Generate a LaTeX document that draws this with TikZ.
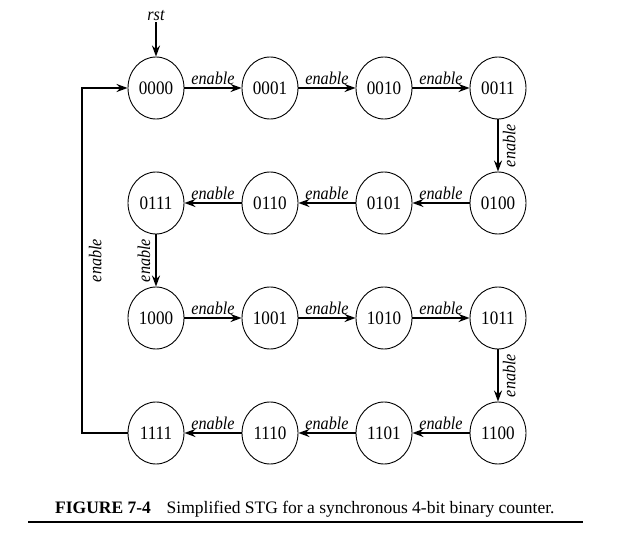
\documentclass[tikz,border=0pt]{standalone}
\usepackage{fontspec}
\setmainfont{Liberation Serif}
\newfontfamily\condfont[FakeStretch=0.9]{Liberation Serif}
\usetikzlibrary{shapes.geometric,arrows.meta}
\begin{document}
\begin{tikzpicture}[x=1pt,y=-1pt,
  state/.style={ellipse,draw,line width=0.9pt,minimum width=56pt,minimum height=62pt,inner sep=0pt,font=\condfont\fontsize{19}{19}\selectfont},
  tr/.style={line width=1.6pt,-{Stealth[length=11pt,width=8pt]}},
  lbl/.style={font=\condfont\fontsize{18}{18}\selectfont\itshape,inner sep=1pt}]
\useasboundingbox (0,0) rectangle (619,534);
% row 1
\node[state] (s0) at (156,88) {0000};
\node[state] (s1) at (270,88) {0001};
\node[state] (s2) at (384,88) {0010};
\node[state] (s3) at (498,88) {0011};
% row 2
\node[state] (s4) at (498,203) {0100};
\node[state] (s5) at (384,203) {0101};
\node[state] (s6) at (270,203) {0110};
\node[state] (s7) at (156,203) {0111};
% row 3
\node[state] (s8) at (156,318) {1000};
\node[state] (s9) at (270,318) {1001};
\node[state] (s10) at (384,318) {1010};
\node[state] (s11) at (498,318) {1011};
% row 4
\node[state] (s12) at (498,433) {1100};
\node[state] (s13) at (384,433) {1101};
\node[state] (s14) at (270,433) {1110};
\node[state] (s15) at (156,433) {1111};
% reset
\node[lbl] (rst) at (156,16) {rst};
\draw[tr] (rst.south) -- (s0.north);
% horizontal transitions
\draw[tr] (s0) -- node[lbl,above=2pt] {enable} (s1);
\draw[tr] (s1) -- node[lbl,above=2pt] {enable} (s2);
\draw[tr] (s2) -- node[lbl,above=2pt] {enable} (s3);
\draw[tr] (s4) -- node[lbl,above=2pt] {enable} (s5);
\draw[tr] (s5) -- node[lbl,above=2pt] {enable} (s6);
\draw[tr] (s6) -- node[lbl,above=2pt] {enable} (s7);
\draw[tr] (s8) -- node[lbl,above=2pt] {enable} (s9);
\draw[tr] (s9) -- node[lbl,above=2pt] {enable} (s10);
\draw[tr] (s10) -- node[lbl,above=2pt] {enable} (s11);
\draw[tr] (s12) -- node[lbl,above=2pt] {enable} (s13);
\draw[tr] (s13) -- node[lbl,above=2pt] {enable} (s14);
\draw[tr] (s14) -- node[lbl,above=2pt] {enable} (s15);
% vertical transitions
\draw[tr] (s3) -- node[lbl,rotate=90,below=3pt] {enable} (s4);
\draw[tr] (s7) -- node[lbl,rotate=90,above=4pt] {enable} (s8);
\draw[tr] (s11) -- node[lbl,rotate=90,below=3pt] {enable} (s12);
% feedback
\coordinate (fb) at (82,0);
\draw[tr] (s15.west) -- (s15.west -| fb) -- node[lbl,rotate=90,pos=0.5,below=5pt] {enable} (s0.west -| fb) -- (s0.west);
% caption
\node[anchor=base west,font=\fontsize{17.5}{17.5}\selectfont,inner sep=0pt] (cap) at (55,514)
  {\textbf{FIGURE 7-4}\hspace{0.9em}Simplified STG for a synchronous 4-bit binary counter.};
\coordinate (r1) at (28,522);
\coordinate (r2) at (583,522);
\draw[line width=1.2pt] (r1) -- (r2);
\end{tikzpicture}
\end{document}
